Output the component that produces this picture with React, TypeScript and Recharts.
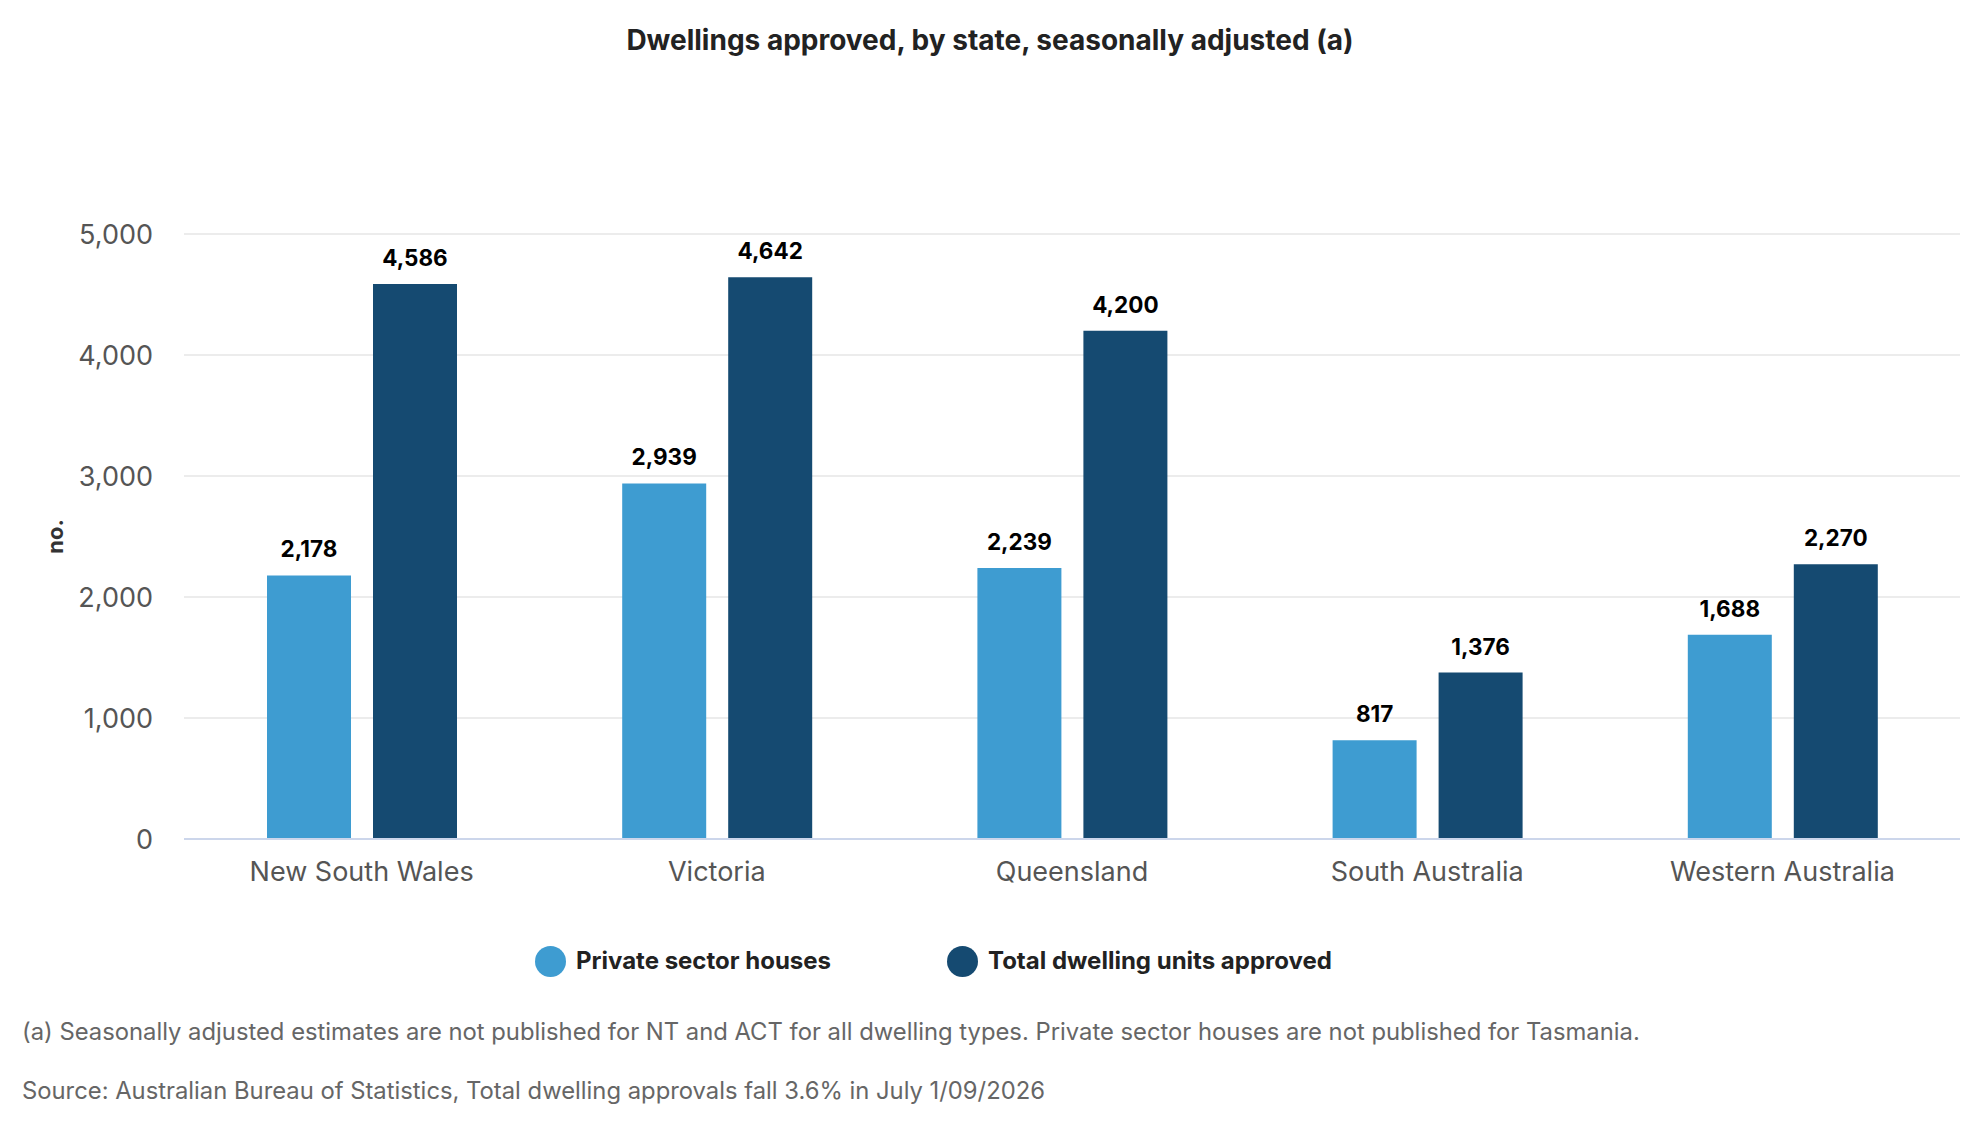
import React from 'react';
import { BarChart, Bar, XAxis, YAxis, CartesianGrid, LabelList } from 'recharts';

const states = ['New South Wales', 'Victoria', 'Queensland', 'South Australia', 'Western Australia'];
const privateHouses = [2178, 2939, 2239, 817, 1688];
const totalDwellings = [4586, 4642, 4200, 1376, 2270];
const yTicks = [0, 1000, 2000, 3000, 4000, 5000];
const seriesKeys = ['privateHouses', 'totalDwellings'];
const seriesNames = ['Private sector houses', 'Total dwelling units approved'];
const seriesColors = ['#3e9cd1', '#154a71'];
const titleText = 'Dwellings approved, by state, seasonally adjusted (a)';
const yAxisTitle = 'no.';
const footnotes = [
  '(a) Seasonally adjusted estimates are not published for NT and ACT for all dwelling types. Private sector houses are not published for Tasmania.',
  'Source: Australian Bureau of Statistics, Total dwelling approvals fall 3.6% in July 1/09/2026',
];

const data = states.map((s, i) => ({
  state: s,
  privateHouses: privateHouses[i],
  totalDwellings: totalDwellings[i],
}));

const FONT = 'Inter, "Noto Sans", sans-serif';
const fmt = (v: number) => Number(v).toLocaleString('en-US');

export default function App() {
  return (
    <div style={{ position: 'absolute', left: 0, top: 0, width: 1980, height: 1140, background: '#fff', fontFamily: FONT }}>
      <div
        style={{
          position: 'absolute', left: 0, top: 22, width: 1980, textAlign: 'center',
          fontSize: 28, fontWeight: 700, color: '#222', lineHeight: '36px',
        }}
      >
        {titleText}
      </div>
      <div style={{ position: 'absolute', left: 0, top: 0 }}>
        <BarChart
          width={1980}
          height={920}
          data={data}
          margin={{ top: 234, right: 20, left: 0, bottom: 21 }}
          barGap={22}
          barSize={84}
        >
          <CartesianGrid vertical={false} stroke="#e6e6e6" strokeWidth={1.5} />
          <XAxis
            dataKey="state"
            height={60}
            axisLine={{ stroke: '#ccd6eb', strokeWidth: 2 }}
            tickLine={false}
            tickSize={6}
            tickMargin={17}
            tick={{ fill: '#555', fontSize: 27, fontFamily: FONT }}
            interval={0}
          />
          <YAxis
            width={184}
            domain={[0, 5000]}
            ticks={yTicks}
            axisLine={false}
            tickLine={false}
            tickSize={6}
            tickMargin={25}
            tickFormatter={fmt}
            tick={{ fill: '#555', fontSize: 27, fontFamily: FONT }}
            label={{
              value: yAxisTitle,
              angle: -90,
              position: 'insideLeft',
              offset: 55,
              style: { textAnchor: 'middle', fill: '#333', fontSize: 22, fontWeight: 700, fontFamily: FONT },
            }}
          />
          {seriesKeys.map((k, i) => (
            <Bar key={k} dataKey={k} name={seriesNames[i]} fill={seriesColors[i]} isAnimationActive={false}>
              <LabelList
                dataKey={k}
                position="top"
                offset={18}
                formatter={fmt}
                style={{ fill: '#000', fontSize: 22.5, fontWeight: 700, fontFamily: FONT }}
              />
            </Bar>
          ))}
        </BarChart>
      </div>
      <div
        style={{
          position: 'absolute', left: 535, top: 941, display: 'flex',
          alignItems: 'center', gap: 116, whiteSpace: 'nowrap',
        }}
      >
        {seriesNames.map((n, i) => (
          <div key={n} style={{ display: 'flex', alignItems: 'center' }}>
            <span style={{ width: 31, height: 31, borderRadius: '50%', background: seriesColors[i], display: 'inline-block', marginRight: 10 }} />
            <span style={{ fontSize: 24, fontWeight: 700, color: '#222', lineHeight: '40px' }}>{n}</span>
          </div>
        ))}
      </div>
      {footnotes.map((f, i) => (
        <div
          key={i}
          style={{
            position: 'absolute', left: 22, top: 1017 + i * 59, fontSize: 23.8, color: '#666',
            lineHeight: '30px', whiteSpace: 'nowrap',
          }}
        >
          {f}
        </div>
      ))}
    </div>
  );
}
